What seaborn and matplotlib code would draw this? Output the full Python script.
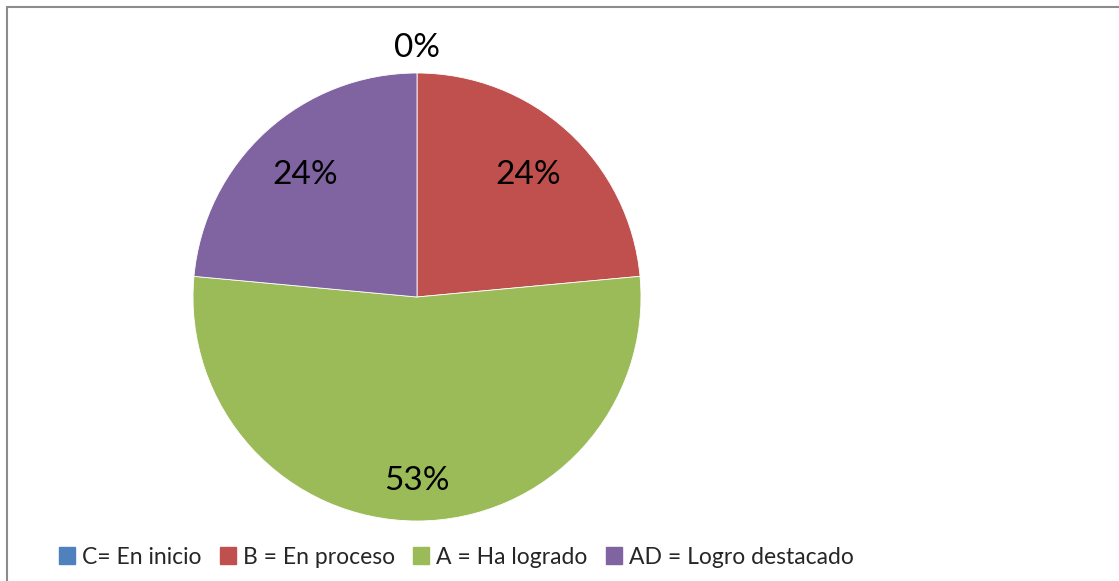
import matplotlib
matplotlib.use("Agg")
import matplotlib.pyplot as plt
import matplotlib.patches as mpatches
import numpy as np
import seaborn as sns

# data
categorias = ["C= En inicio", "B = En proceso", "A = Ha logrado", "AD = Logro destacado"]
cantidades = [0, 4, 9, 4]
colores = ["#4F81BD", "#C0504D", "#9BBB59", "#8064A2"]

sns.set_theme(style="white")
plt.rcParams["font.family"] = ["Lato", "DejaVu Sans"]

W, H = 1119, 581
fig = plt.figure(figsize=(W / 100, H / 100), dpi=100)
fig.patch.set_facecolor("white")

# grey frame round the chart area
fig.patches.append(mpatches.Rectangle((7 / W, -0.05), 1.1, 1 - 7 / H + 0.05,
                                      transform=fig.transFigure, fill=False,
                                      edgecolor="#8c8c8c", linewidth=1.5))

# pie centre (417, 297), radius 224 px
cx, cy, r = 417, 297, 224
ax = fig.add_axes([(cx - r) / W, (H - cy - r) / H, 2 * r / W, 2 * r / H])

wedges, _ = ax.pie(cantidades, colors=colores, startangle=90, counterclock=False,
                   wedgeprops=dict(edgecolor="white", linewidth=0.6))
ax.set_xlim(-1, 1)
ax.set_ylim(-1, 1)
ax.set_aspect("auto")
ax.axis("off")

total = sum(cantidades)
for w, v in zip(wedges, cantidades):
    ang = np.deg2rad((w.theta1 + w.theta2) / 2)
    pct = v / total * 100
    if v == 0:
        d = 1.11
    elif pct > 50:
        d = 0.82
    else:
        d = 0.74
    ax.text(d * np.cos(ang), d * np.sin(ang), f"{pct:.0f}%", ha="center",
            va="center", fontsize=24, color="black", clip_on=False)

handles = [mpatches.Patch(color=c, label=l) for c, l in zip(colores, categorias)]
fig.legend(handles=handles, loc="center left", bbox_to_anchor=(50 / W, 1 - 557 / H),
           ncol=4, frameon=False, fontsize=16.5, handlelength=0.7, handleheight=0.7,
           handletextpad=0.3, columnspacing=0.8, borderaxespad=0)

fig.savefig("out.png", dpi=100, facecolor="white")
